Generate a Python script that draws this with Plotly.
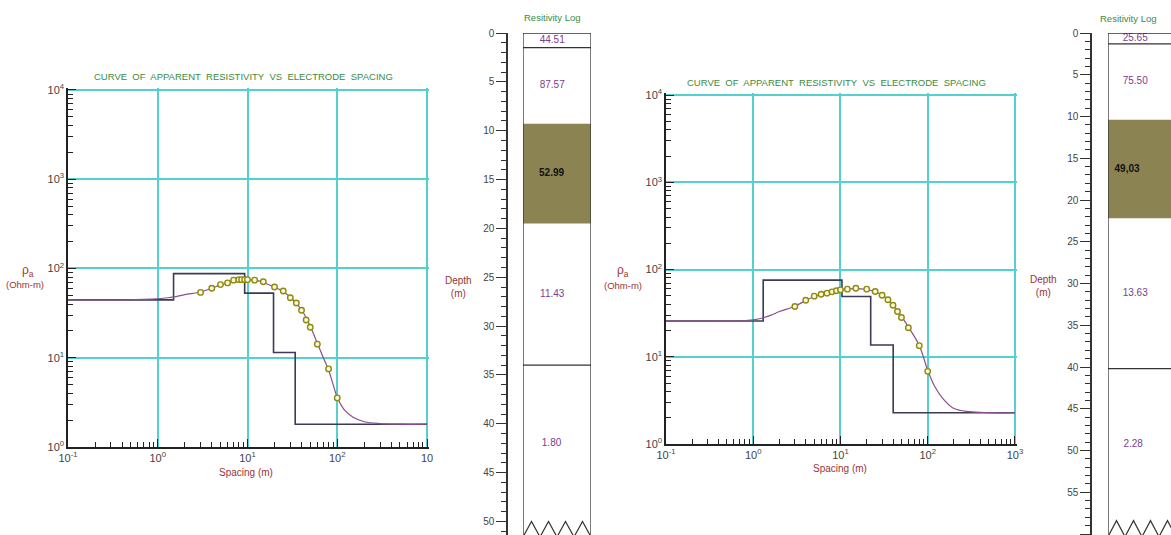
import plotly.graph_objects as go

W, H = 1171, 535

# ---------------- data ----------------
# Left sounding
spacing_L = [3, 4, 5, 6, 7, 8, 8.6, 9.3, 10, 12, 15, 20, 25, 30, 35, 40, 45, 50, 60, 80, 100]
rho_obs_L = [54, 60, 66, 69, 74, 75, 75, 75, 75, 74, 71, 62, 56, 47, 41, 34, 26.5, 22, 14.2, 7.5, 3.55]
model_x_L = [0.1, 0.2, 0.4, 0.7, 1.0, 1.3, 1.6, 2, 3, 4, 5, 7, 10, 13, 16, 20, 25, 30, 40, 50, 60, 70, 80, 90, 100,
             120, 150, 200, 300, 500, 1000]
model_y_L = [44.5, 44.5, 44.6, 45, 45.8, 47, 48.5, 51, 54.5, 60, 65.5, 72, 74.5, 73, 68, 62, 55, 48, 34.5, 22.5, 14.5,
             10, 7.3, 5.0, 3.6, 2.6, 2.15, 1.92, 1.83, 1.8, 1.8]
layer_rho_L = [44.51, 87.57, 52.99, 11.43, 1.80]
layer_depth_L = [1.5, 9.3, 19.5, 34.0]
layer_text_L = ["44.51", "87.57", "<b>52.99</b>", "11.43", "1.80"]

# Right sounding
spacing_R = [3, 4, 5, 6, 7, 8, 9, 10, 12, 15, 20, 25, 30, 35, 40, 45, 50, 60, 80, 100]
rho_obs_R = [37.7, 44.5, 49.5, 52, 53.6, 55.5, 57, 58.5, 59.6, 61, 59.6, 56, 50.8, 45, 39, 33, 28.2, 21.5, 13.4, 6.8]
model_x_R = [0.1, 0.5, 0.75, 1.0, 1.3, 1.6, 2, 3, 4, 5, 7, 10, 15, 20, 25, 30, 40, 50, 60, 80, 100, 120, 150, 200,
             300, 500, 1000]
model_y_R = [25.65, 25.7, 25.8, 26.5, 28, 30, 33, 38, 44, 49, 54, 58.5, 60.5, 59, 55.5, 51, 39.5, 29, 22, 13.5, 7,
             4.6, 3.3, 2.55, 2.35, 2.29, 2.28]
layer_rho_R = [25.65, 75.50, 49.03, 13.63, 2.28]
layer_depth_R = [1.3, 10.4, 22.2, 40.2]
layer_text_R = ["25.65", "75.50", "<b>49,03</b>", "13.63", "2.28"]

x_tickvals = [0.1, 1, 10, 100, 1000]
x_ticktext_L = ["10<sup>-1</sup>", "10<sup>0</sup>", "10<sup>1</sup>", "10<sup>2</sup>", "10"]
x_ticktext_R = ["10<sup>-1</sup>", "10<sup>0</sup>", "10<sup>1</sup>", "10<sup>2</sup>", "10<sup>3</sup>"]
y_tickvals = [1, 10, 100, 1000, 10000]
y_ticktext = ["10<sup>0</sup>", "10<sup>1</sup>", "10<sup>2</sup>", "10<sup>3</sup>", "10<sup>4</sup>"]

# ---------------- styles ----------------
FONT = "Liberation Sans, Arial, sans-serif"
GRID = "#55d0d0"
STEP_C = "#3b3b55"
CURVE_C = "#8a4f8f"
TITLE_C = "#3d8a3d"
LABEL_C = "#9a3434"
VAL_C = "#7a3d8a"
BROWN = "#8c8352"
TICK_C = "#444444"


def fx(p):
    return p / W


def fy(p):
    return 1 - p / H


def step_xy(rhos, depths, xmin, xmax):
    xs, ys = [xmin], [rhos[0]]
    for d, a, b in zip(depths, rhos[:-1], rhos[1:]):
        xs += [d, d]
        ys += [a, b]
    xs.append(xmax)
    ys.append(rhos[-1])
    return xs, ys


minor_vals = [m * 10 ** e for e in range(-1, 4) for m in range(2, 10)]

fig = go.Figure()


def add_curve(xa, ya, spacing, rho, mx, my, lrho, ldep):
    sx, sy = step_xy(lrho, ldep, 0.1, 1000)
    fig.add_trace(go.Scatter(x=sx, y=sy, mode="lines", line=dict(color=STEP_C, width=1.6),
                             xaxis=xa, yaxis=ya, hoverinfo="skip"))
    fig.add_trace(go.Scatter(x=mx, y=my, mode="lines", line=dict(color=CURVE_C, width=1.2, shape="spline"),
                             xaxis=xa, yaxis=ya, hoverinfo="skip"))
    fig.add_trace(go.Scatter(x=spacing, y=rho, mode="markers",
                             marker=dict(symbol="circle", size=5.5, color="#fbf8d0",
                                         line=dict(color="#8d8a12", width=1.4)),
                             xaxis=xa, yaxis=ya))


add_curve("x", "y", spacing_L, rho_obs_L, model_x_L, model_y_L, layer_rho_L, layer_depth_L)
add_curve("x3", "y3", spacing_R, rho_obs_R, model_x_R, model_y_R, layer_rho_R, layer_depth_R)


def log_x(domain, ticktext):
    return dict(type="log", domain=domain, range=[-1, 3.02], tickvals=x_tickvals, ticktext=ticktext,
                automargin=False,
                showline=True, linecolor="#222", linewidth=1.5, ticks="inside", ticklen=8,
                tickcolor="#222", tickwidth=1.2, showgrid=True, gridcolor=GRID, gridwidth=1.5,
                zeroline=False, tickfont=dict(family=FONT, size=11, color=TICK_C),
                minor=dict(tickvals=minor_vals, ticks="inside", ticklen=5, tickcolor="#222",
                           tickwidth=1, showgrid=False))


def log_y(domain):
    return dict(type="log", domain=domain, range=[0, 4.02], tickvals=y_tickvals, ticktext=y_ticktext,
                automargin=False,
                showline=True, linecolor="#222", linewidth=1.5, ticks="inside", ticklen=8,
                tickcolor="#222", tickwidth=1.2, showgrid=True, gridcolor=GRID, gridwidth=1.5,
                zeroline=False, tickfont=dict(family=FONT, size=11, color=TICK_C),
                minor=dict(tickvals=minor_vals, ticks="inside", ticklen=5, tickcolor="#222",
                           tickwidth=1, showgrid=False))


def depth_axis(domain, rng, pos):
    return dict(domain=domain, range=rng, anchor="free", position=pos, showline=True,
                automargin=False,
                linecolor="#333", linewidth=1.5, ticks="outside", ticklen=10, tickwidth=1.2,
                tickcolor="#333", tick0=0, dtick=5, showgrid=False, zeroline=False,
                tickfont=dict(family=FONT, size=10, color=TICK_C),
                minor=dict(dtick=1, ticks="outside", ticklen=5, tickcolor="#333", tickwidth=1,
                           showgrid=False))


# log column geometry (depth 0 at top pixel, px per metre)
LOG_L_TOP, LOG_L_SCALE = 33, 9.77
LOG_R_TOP, LOG_R_SCALE = 33, 8.35
LOG_L_BOTTOM = (535 - LOG_L_TOP) / LOG_L_SCALE
LOG_R_BOTTOM = (535 - LOG_R_TOP) / LOG_R_SCALE

fig.update_layout(
    width=W, height=H, margin=dict(l=0, r=0, t=0, b=0, autoexpand=False), showlegend=False,
    paper_bgcolor="white", plot_bgcolor="white",
    xaxis=log_x([fx(68), fx(428.8)], x_ticktext_L),
    yaxis=dict(log_y([fy(447), fy(88.2)]), anchor="x"),
    xaxis3=dict(log_x([fx(666), fx(1016.7)], x_ticktext_R), anchor="y3"),
    yaxis3=dict(log_y([fy(444), fy(93.3)]), anchor="x3"),
    xaxis2=dict(domain=[fx(523), fx(591)], range=[0, 1], anchor="y2", visible=False, automargin=False),
    yaxis2=depth_axis([0, fy(LOG_L_TOP)], [LOG_L_BOTTOM, 0], fx(507)),
    xaxis4=dict(domain=[fx(1108), 1], range=[0, (1171 - 1108) / 68], anchor="y4", visible=False,
                automargin=False),
    yaxis4=depth_axis([0, fy(LOG_R_TOP)], [LOG_R_BOTTOM, 0], fx(1091)),
)


# layer value labels
def label_depths(depths, bottom):
    tops = [0] + depths
    bots = depths + [bottom]
    return [(a + b) / 2 for a, b in zip(tops, bots)]


fig.add_trace(go.Scatter(
    x=[0.43, 0.43, 0.42, 0.43, 0.42], y=label_depths(layer_depth_L, 50.0), mode="text",
    text=layer_text_L, textfont=dict(family=FONT, size=10, color=[VAL_C, VAL_C, "#111", VAL_C, VAL_C]),
    xaxis="x2", yaxis="y2", hoverinfo="skip"))
fig.add_trace(go.Scatter(
    x=[0.4, 0.4, 0.28, 0.4, 0.37], y=label_depths(layer_depth_R, 58.4), mode="text",
    text=layer_text_R, textfont=dict(family=FONT, size=10, color=[VAL_C, VAL_C, "#111", VAL_C, VAL_C]),
    xaxis="x4", yaxis="y4", hoverinfo="skip"))


def log_shapes(xr, yr, depths, bottom, peak):
    shp = []
    shp.append(dict(type="rect", xref=xr, yref=yr, x0=0, x1=1, y0=depths[1], y1=depths[2],
                    fillcolor=BROWN, line=dict(width=0), layer="below"))
    lc = dict(color="#333", width=1.3)
    shp.append(dict(type="line", xref=xr, yref=yr, x0=0, x1=1, y0=0, y1=0, line=lc))
    shp.append(dict(type="line", xref=xr, yref=yr, x0=0, x1=0, y0=0, y1=bottom, line=lc))
    shp.append(dict(type="line", xref=xr, yref=yr, x0=1, x1=1, y0=0, y1=bottom, line=lc))
    for d in (depths[0], depths[3]):
        shp.append(dict(type="line", xref=xr, yref=yr, x0=0, x1=1, y0=d, y1=d, line=lc))
    pts = []
    for i in range(9):
        pts.append((i / 8, peak if i % 2 else bottom + 0.2))
    path = "M " + " L ".join(f"{x},{y}" for x, y in pts)
    shp.append(dict(type="path", xref=xr, yref=yr, path=path, line=dict(color="#333", width=1.2)))
    return shp


shapes = log_shapes("x2", "y2", layer_depth_L, LOG_L_BOTTOM, 50.0) + \
         log_shapes("x4", "y4", layer_depth_R, LOG_R_BOTTOM, 58.4)
fig.update_layout(shapes=shapes)


def ann(text, x, y, color, size=10):
    fig.add_annotation(text=text, x=fx(x), y=fy(y), xref="paper", yref="paper", showarrow=False,
                       xanchor="center", yanchor="middle",
                       font=dict(family=FONT, size=size, color=color))


TITLE = "CURVE&nbsp; OF&nbsp; APPARENT&nbsp; RESISTIVITY&nbsp; VS&nbsp; ELECTRODE&nbsp; SPACING"
ann(TITLE, 243, 77, TITLE_C, 9.5)
ann(TITLE, 836, 83, TITLE_C, 9.5)
ann("Spacing (m)", 246, 472, LABEL_C, 10)
ann("Spacing (m)", 840, 468, LABEL_C, 10)
ann("ρ<sub>a</sub>", 28, 271, LABEL_C, 12)
ann("(Ohm-m)", 25, 284, LABEL_C, 9.5)
ann("ρ<sub>a</sub>", 623, 271, LABEL_C, 12)
ann("(Ohm-m)", 623, 285, LABEL_C, 9.5)
ann("Resitivity Log", 552, 17, TITLE_C, 9.5)
ann("Resitivity Log", 1128, 19, TITLE_C, 9.5)
ann("Depth<br>(m)", 458, 287, LABEL_C, 10)
ann("Depth<br>(m)", 1043, 286, LABEL_C, 10)

fig.write_html("out.html")
